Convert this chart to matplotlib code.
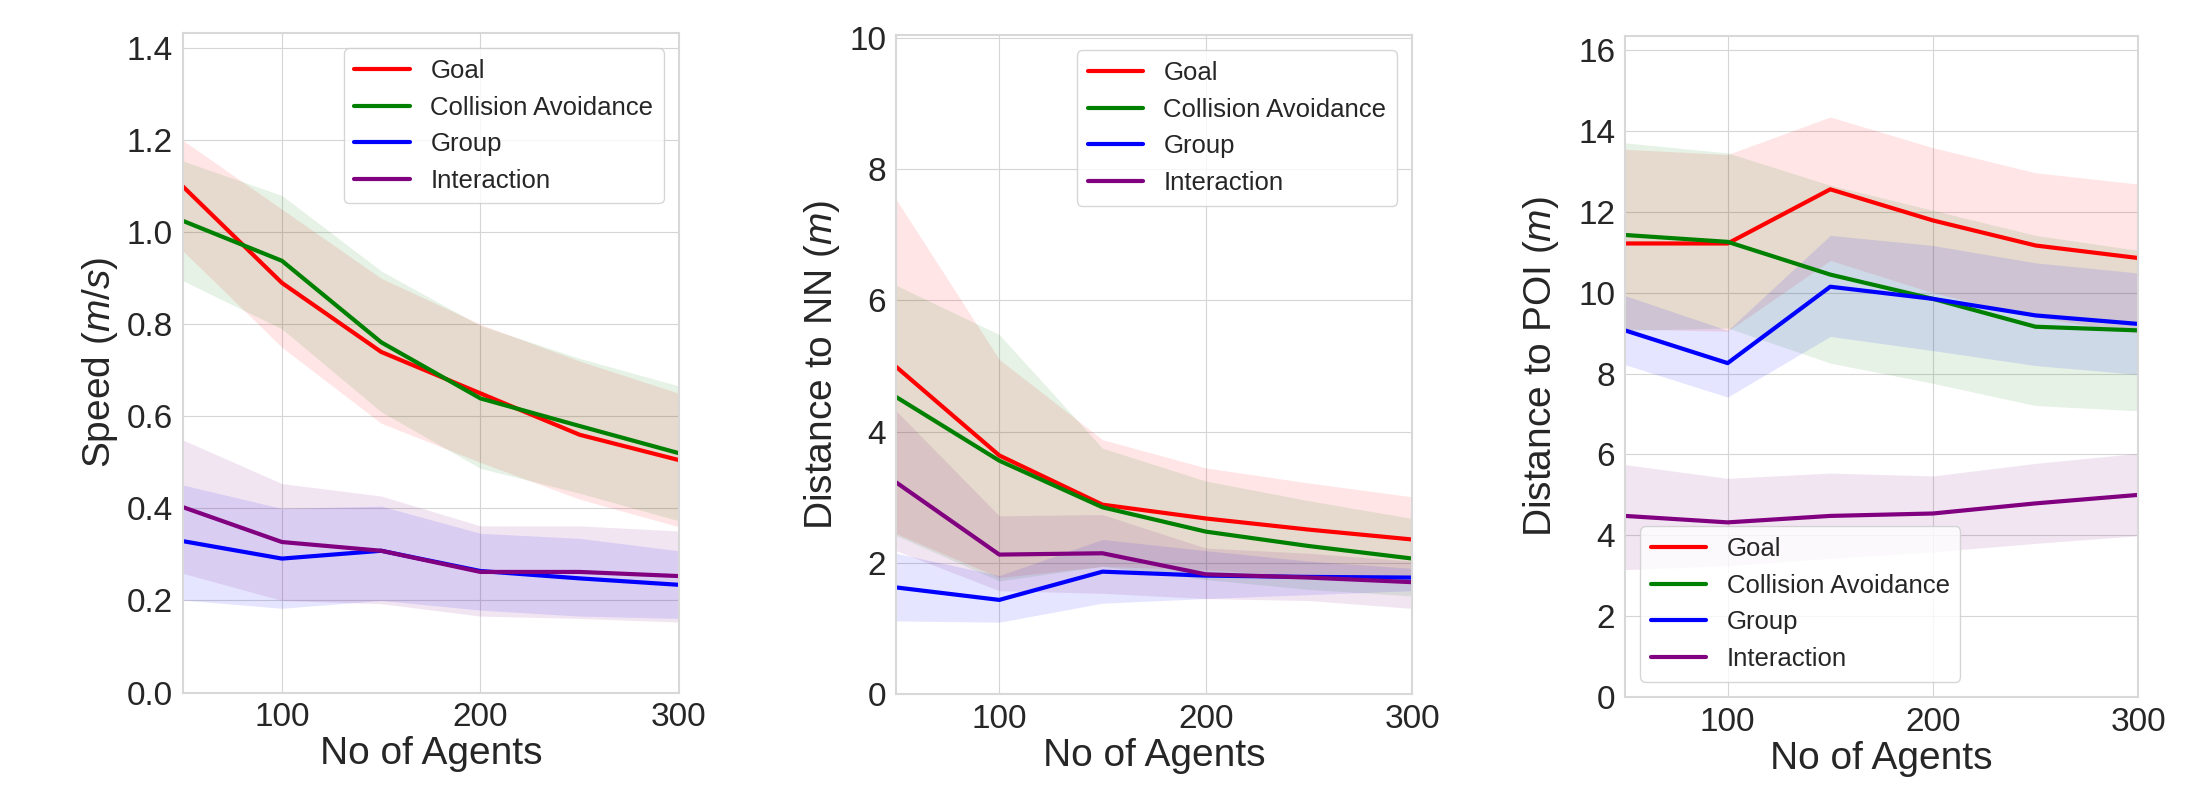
import numpy as np
import matplotlib.pyplot as plt

# number of agents
agents = [50, 100, 150, 200, 250, 300]
labels = ['Goal', 'Collision Avoidance', 'Group', 'Interaction']
colors = ['red', 'green', 'blue', 'purple']

# Speed (m/s): mean, lower, upper per condition
speed_goal = [1.10, 0.89, 0.74, 0.65, 0.56, 0.505]
speed_goal_lo = [0.96, 0.75, 0.585, 0.50, 0.42, 0.36]
speed_goal_hi = [1.20, 1.05, 0.90, 0.80, 0.72, 0.65]
speed_coll = [1.025, 0.938, 0.761, 0.639, 0.579, 0.52]
speed_coll_lo = [0.895, 0.79, 0.61, 0.487, 0.433, 0.373]
speed_coll_hi = [1.155, 1.08, 0.916, 0.797, 0.726, 0.666]
speed_group = [0.329, 0.291, 0.308, 0.264, 0.248, 0.234]
speed_group_lo = [0.201, 0.183, 0.20, 0.179, 0.166, 0.161]
speed_group_hi = [0.451, 0.40, 0.405, 0.346, 0.335, 0.308]
speed_inter = [0.403, 0.327, 0.308, 0.262, 0.262, 0.253]
speed_inter_lo = [0.259, 0.20, 0.193, 0.166, 0.161, 0.153]
speed_inter_hi = [0.549, 0.454, 0.427, 0.362, 0.362, 0.351]

# Distance to nearest neighbour (m)
nn_goal = [4.99, 3.64, 2.89, 2.68, 2.51, 2.36]
nn_goal_lo = [2.45, 1.78, 1.95, 1.9, 1.8, 1.7]
nn_goal_hi = [7.54, 5.10, 3.88, 3.45, 3.22, 3.01]
nn_coll = [4.53, 3.56, 2.85, 2.48, 2.26, 2.07]
nn_coll_lo = [2.42, 1.73, 1.95, 1.75, 1.6, 1.5]
nn_coll_hi = [6.23, 5.48, 3.75, 3.25, 2.95, 2.68]
nn_group = [1.63, 1.44, 1.87, 1.81, 1.79, 1.78]
nn_group_lo = [1.12, 1.10, 1.39, 1.46, 1.52, 1.58]
nn_group_hi = [2.15, 1.81, 2.36, 2.19, 2.03, 1.92]
nn_inter = [3.23, 2.13, 2.15, 1.83, 1.78, 1.71]
nn_inter_lo = [2.19, 1.58, 1.54, 1.46, 1.43, 1.31]
nn_inter_hi = [4.32, 2.72, 2.74, 2.23, 2.15, 2.03]

# Distance to point of interest (m)
poi_goal = [11.22, 11.22, 12.56, 11.79, 11.17, 10.86]
poi_goal_lo = [9.1, 9.05, 10.8, 10.0, 9.4, 9.0]
poi_goal_hi = [13.55, 13.42, 14.35, 13.59, 12.97, 12.69]
poi_coll = [11.43, 11.26, 10.45, 9.85, 9.16, 9.07]
poi_coll_lo = [9.07, 9.13, 8.26, 7.76, 7.21, 7.08]
poi_coll_hi = [13.71, 13.46, 12.66, 12.04, 11.42, 11.05]
poi_group = [9.07, 8.26, 10.15, 9.85, 9.44, 9.23]
poi_group_lo = [8.22, 7.42, 8.92, 8.57, 8.2, 7.98]
poi_group_hi = [9.93, 9.07, 11.42, 11.17, 10.74, 10.49]
poi_inter = [4.48, 4.32, 4.48, 4.54, 4.79, 5.0]
poi_inter_lo = [3.15, 3.25, 3.43, 3.59, 3.80, 3.99]
poi_inter_hi = [5.75, 5.41, 5.54, 5.47, 5.78, 6.03]

plt.style.use('seaborn-v0_8-whitegrid')
plt.rcParams['font.family'] = ['Liberation Sans', 'DejaVu Sans']
plt.rcParams['mathtext.fontset'] = 'custom'
plt.rcParams['mathtext.it'] = 'Liberation Sans:italic'
plt.rcParams['mathtext.rm'] = 'Liberation Sans'
plt.rcParams['grid.color'] = '#d5d5d5'
plt.rcParams['text.color'] = '#262626'
plt.rcParams['xtick.color'] = '#262626'
plt.rcParams['ytick.color'] = '#262626'
plt.rcParams['axes.labelcolor'] = '#262626'

fig = plt.figure(figsize=(21.93, 7.85), dpi=100)
ax1 = fig.add_axes([0.0833, 0.1178, 0.2263, 0.8402])
ax2 = fig.add_axes([0.4086, 0.1153, 0.2353, 0.8401])
ax3 = fig.add_axes([0.741, 0.1121, 0.234, 0.8419])

panels = [
    (ax1, [(speed_goal, speed_goal_lo, speed_goal_hi), (speed_coll, speed_coll_lo, speed_coll_hi),
           (speed_group, speed_group_lo, speed_group_hi), (speed_inter, speed_inter_lo, speed_inter_hi)],
     'Speed ($m/s$)', (0, 1.433), np.arange(0, 1.41, 0.2), '{:.1f}', 'upper right', 5),
    (ax2, [(nn_goal, nn_goal_lo, nn_goal_hi), (nn_coll, nn_coll_lo, nn_coll_hi),
           (nn_group, nn_group_lo, nn_group_hi), (nn_inter, nn_inter_lo, nn_inter_hi)],
     'Distance to NN ($m$)', (0, 10.04), np.arange(0, 11, 2), '{:.0f}', 'upper right', 5),
    (ax3, [(poi_goal, poi_goal_lo, poi_goal_hi), (poi_coll, poi_coll_lo, poi_coll_hi),
           (poi_group, poi_group_lo, poi_group_hi), (poi_inter, poi_inter_lo, poi_inter_hi)],
     'Distance to POI ($m$)', (0, 16.35), np.arange(0, 17, 2), '{:.0f}', 'lower left', 12),
]

for ax, series, ylabel, ylim, yticks, fmt, loc, ypad in panels:
    for (mean, lo, hi), lab, c in zip(series, labels, colors):
        ax.fill_between(agents, lo, hi, color=c, alpha=0.1, linewidth=0)
        ax.plot(agents, mean, color=c, linewidth=3, label=lab)
    ax.set_xlim(50, 300)
    ax.set_ylim(*ylim)
    ax.set_xticks([100, 200, 300])
    ax.set_yticks(yticks)
    ax.set_yticklabels([fmt.format(t) for t in yticks])
    ax.tick_params(labelsize=24, pad=7)
    ax.set_xlabel('No of Agents', fontsize=28, labelpad=2)
    ax.set_ylabel(ylabel, fontsize=28, labelpad=ypad)
    for s in ax.spines.values():
        s.set_visible(True)
        s.set_color('#d8d8d8')
        s.set_linewidth(1.5)
    ax.legend(loc=loc, fontsize=18.5, frameon=True, framealpha=0.8,
              handlelength=2.15, labelspacing=0.5, borderaxespad=0.6)

plt.savefig('out.png', dpi=100)
